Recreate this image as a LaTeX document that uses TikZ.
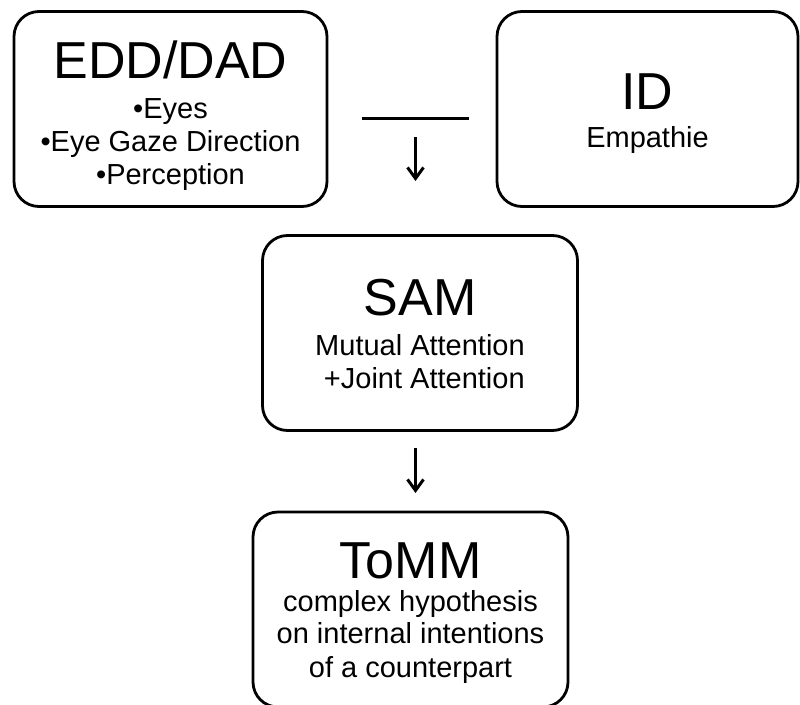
\documentclass[tikz,border=0pt]{standalone}
\usepackage{fontspec}
\setmainfont{Liberation Sans}
\usetikzlibrary{arrows.meta}
\newcommand{\titlesize}{\fontsize{52}{60}\selectfont}
\newcommand{\titlestrut}[1]{\rule{0pt}{#1}}

\begin{document}
\begin{tikzpicture}[x=1pt, y=-1pt,
    modul/.style={draw, line width=2.8pt, rounded corners=25pt, minimum height=195pt,
        align=center, inner sep=0pt, font=\fontsize{29}{33}\selectfont},
    pfeil/.style={line width=3pt, -{Straight Barb[length=11pt,width=16pt]}}]
    \useasboundingbox (0,0) rectangle (800,704);
    \clip (0,0) rectangle (800,704);

    \node[modul, minimum width=313pt] (edd) at (170.5,109) {\titlestrut{51pt}{\titlesize EDD/DAD}\\[7pt] •Eyes\\ •Eye Gaze Direction\\ •Perception};
    \node[modul, minimum width=301pt] (id) at (647.5,109) {\titlestrut{46pt}{\titlesize ID}\\[5pt] Empathie};
    \node[modul, minimum width=315pt] (sam) at (420,333) {\titlestrut{38pt}{\titlesize SAM}\\[7pt] Mutual Attention\\ \hspace*{0.3em}+Joint Attention};
    \node[modul, minimum width=315pt] (tomm) at (410.5,609.5) {\titlestrut{42pt}{\titlesize ToMM}\\ complex hypothesis\\ on internal intentions\\ of a counterpart};

    \coordinate (bar-l) at (362,118);
    \coordinate (bar-r) at (469,118);
    \coordinate (top-a) at (415.5,137);
    \coordinate (top-b) at (415.5,181);
    \coordinate (mid-a) at (415.5,448);
    \coordinate (mid-b) at (415.5,493);

    \draw[line width=3pt] (bar-l) -- (bar-r);
    \draw[pfeil] (top-a) -- (top-b);
    \draw[pfeil] (mid-a) -- (mid-b);
\end{tikzpicture}
\end{document}
